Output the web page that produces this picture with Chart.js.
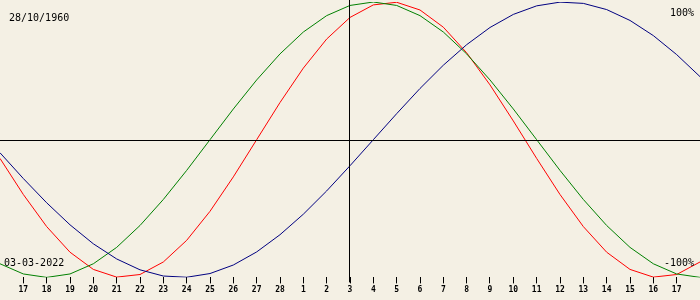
<!DOCTYPE html>
<html>
<head>
<meta charset="utf-8">
<script src="https://cdn.jsdelivr.net/npm/chart.js@4.4.1/dist/chart.umd.min.js"></script>
<style>
html,body{margin:0;padding:0;background:#F4F0E4;}
#wrap{width:700px;height:300px;position:relative;}
</style>
</head>
<body>
<div id="wrap"><canvas id="c" width="700" height="300"></canvas></div>
<script>
// Days from 16 Feb 2022 to 18 Mar 2022
const days = ['16','17','18','19','20','21','22','23','24','25','26','27','28','1','2','3','4','5','6','7','8','9','10','11','12','13','14','15','16','17','18'];
// Biorhythm values (-1 .. 1)
const physical = [-0.136,-0.398,-0.631,-0.817,-0.942,-0.998,-0.979,-0.888,-0.731,-0.520,-0.270,0,0.270,0.520,0.731,0.888,0.979,0.998,0.942,0.817,0.631,0.398,0.136,-0.136,-0.398,-0.631,-0.817,-0.942,-0.998,-0.979,-0.888];
const emotional = [-0.901,-0.975,-1,-0.975,-0.901,-0.782,-0.623,-0.434,-0.223,0,0.223,0.434,0.623,0.782,0.901,0.975,1,0.975,0.901,0.782,0.623,0.434,0.223,0,-0.223,-0.434,-0.623,-0.782,-0.901,-0.975,-1];
const intellectual = [-0.095,-0.282,-0.458,-0.618,-0.756,-0.866,-0.945,-0.990,-0.999,-0.972,-0.910,-0.815,-0.690,-0.541,-0.372,-0.189,0,0.189,0.372,0.541,0.690,0.815,0.910,0.972,0.999,0.990,0.945,0.866,0.756,0.618,0.458];
const todayIndex = 15;
const birthText = '28/10/1960';
const dateText = '03-03-2022';
const topText = '100%';
const bottomText = '-100%';

const overlay = {
  id: 'overlay',
  afterDatasetsDraw(chart) {
    const {ctx, chartArea, scales} = chart;
    const x = Math.round(scales.x.getPixelForValue(todayIndex)) - 0.5;
    const y0 = Math.round(scales.y.getPixelForValue(0)) + 0.5;
    ctx.save();
    ctx.strokeStyle = '#000';
    ctx.lineWidth = 1;
    ctx.beginPath();
    ctx.moveTo(x, 0);
    ctx.lineTo(x, chartArea.bottom + 5);
    ctx.moveTo(0, y0);
    ctx.lineTo(chart.width, y0);
    ctx.stroke();
    ctx.fillStyle = '#000';
    ctx.font = '10px "DejaVu Sans Mono"';
    ctx.textBaseline = 'alphabetic';
    ctx.textAlign = 'left';
    ctx.fillText(birthText, 9, 21);
    ctx.fillText(dateText, 4, 266);
    ctx.textAlign = 'right';
    ctx.fillText(topText, 694, 16);
    ctx.fillText(bottomText, 694, 266);
    ctx.restore();
  }
};

new Chart(document.getElementById('c'), {
  type: 'line',
  data: {
    labels: days,
    datasets: [
      {data: intellectual, borderColor: '#000080', borderWidth: 1, pointRadius: 0, tension: 0, fill: false},
      {data: emotional, borderColor: '#008000', borderWidth: 1, pointRadius: 0, tension: 0, fill: false},
      {data: physical, borderColor: '#FF0000', borderWidth: 1, pointRadius: 0, tension: 0, fill: false}
    ]
  },
  options: {
    responsive: false,
    animation: false,
    devicePixelRatio: 1,
    layout: {padding: {top: 2, left: 0, right: 0, bottom: 3}},
    plugins: {legend: {display: false}, tooltip: {enabled: false}},
    scales: {
      x: {
        offset: false,
        border: {display: false},
        afterFit: (s) => { s.paddingLeft = 0; s.paddingRight = 0; },
        grid: {
          drawOnChartArea: false,
          drawTicks: true,
          tickLength: 6,
          tickColor: (c) => (c.index === 0 || c.index === days.length - 1) ? 'rgba(0,0,0,0)' : '#000'
        },
        ticks: {
          autoSkip: false,
          maxRotation: 0,
          padding: 2,
          color: '#000',
          font: {family: 'DejaVu Sans Mono', size: 8, weight: 'bold'},
          callback: function(v, i) { return (i === 0 || i === days.length - 1) ? '' : days[i]; }
        }
      },
      y: {display: false, min: -1, max: 1}
    }
  },
  plugins: [overlay]
});
</script>
</body>
</html>
